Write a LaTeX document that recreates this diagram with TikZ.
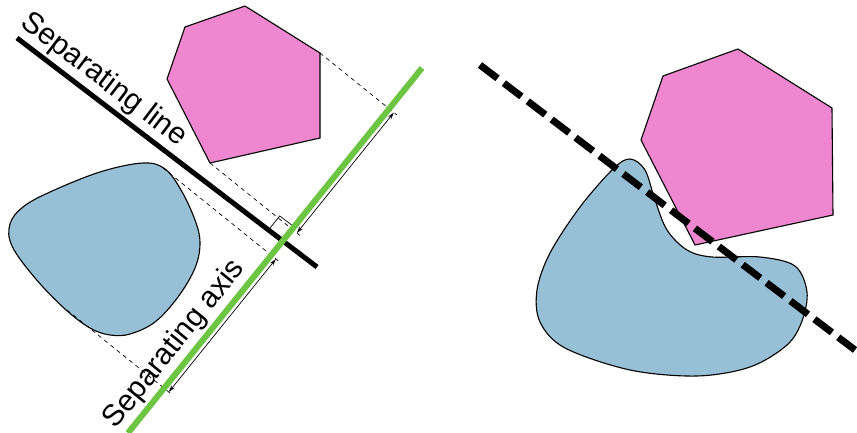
\documentclass[tikz,border=0pt]{standalone}
\usepackage{fontspec}
\setmainfont{Liberation Sans}
\usetikzlibrary{calc,arrows.meta}
\definecolor{shapepink}{HTML}{EE87D0}
\definecolor{shapeblue}{HTML}{97BFD6}
\definecolor{axisgreen}{HTML}{6CC644}
\begin{document}
\begin{tikzpicture}[x=1pt,y=-1pt,
  outline/.style={draw=black,line width=1.1pt,line join=miter},
  projline/.style={dash pattern=on 4pt off 4pt,line width=0.7pt},
  measure/.style={line width=0.7pt,{Stealth[length=7pt,width=4pt]}-{Stealth[length=7pt,width=4pt]}},
  label/.style={font=\fontsize{30}{36}\selectfont,inner sep=0pt,anchor=base}]
\useasboundingbox (0,0) rectangle (857,433);

% ---------- left: separated shapes ----------
\coordinate (G1) at (128,433);
\coordinate (G2) at (422,68);
\coordinate (B1) at (17,38);
\coordinate (B2) at (317,267);

\draw[outline,fill=shapepink] (185,27) -- (245,6) -- (320,53) -- (320,138) -- (210,163) -- (167,79) -- cycle;
\draw[outline,fill=shapeblue] plot[smooth cycle,tension=0.6] coordinates {
  (143,163) (165,169) (181,190) (195,220) (200,243) (195,268) (178,297)
  (155,322) (130,334) (110,335) (90,328) (65,309) (35,278) (12,246)
  (10,224) (23,207) (50,192) (100,172)};

% extreme points of the two shapes along the axis
\coordinate (P1) at (320,53);
\coordinate (P2) at (210,163);
\coordinate (Q1) at (163,168);
\coordinate (Q2) at (67,310);

\foreach \p in {P1,P2,Q1,Q2}{
  \coordinate (F\p) at ($(G1)!(\p)!(G2)$);
  \coordinate (A\p) at ($(F\p)+(4.7,3.8)$);
  \draw[projline] (\p) -- ($(F\p)!-10pt!(\p)$);
}
\draw[measure] (AP1) -- (AP2);
\draw[measure] (AQ1) -- (AQ2);

% separating line and right-angle mark
\draw[line width=5pt] (B1) -- (B2);
\coordinate (I) at (intersection of B1--B2 and G1--G2);
\coordinate (R1) at ($(I)!18pt!(B1)$);
\coordinate (R2) at ($(I)!18pt!(G2)$);
\draw[line width=0.7pt] (R1) -- ($(R1)+(R2)-(I)$) -- (R2);

% separating axis
\draw[axisgreen,line width=6pt] (G1) -- (G2);

\node[label,rotate=-37.35] (sepline) at (99,86) {Separating line};
\node[label,rotate=51.1] (sepaxis) at (180.5,349.2) {Separating axis};

% ---------- right: overlapping shapes ----------
\draw[outline,fill=shapeblue] plot[smooth cycle,tension=0.55] coordinates {
  (630,159) (645,170) (655,200) (667,230) (687,250) (712,257) (760,257)
  (795,266) (807,292) (802,321) (787,345) (750,367) (697,376) (630,370)
  (565,348) (540,322) (537,290) (550,253) (580,207) (613,169)};
\draw[outline,fill=shapepink] (663,76) -- (738,49) -- (832,108) -- (833,215) -- (695,245) -- (641,140) -- cycle;

\coordinate (D1) at (480,65);
\coordinate (D2) at (855,350);
\draw[line width=7pt,dash pattern=on 22pt off 8pt] (D1) -- (D2);
\end{tikzpicture}
\end{document}
